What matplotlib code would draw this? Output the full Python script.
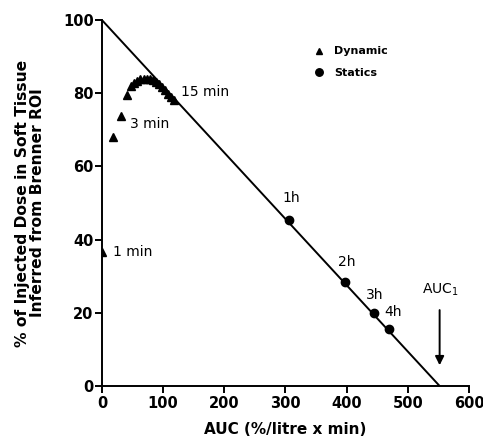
import numpy as np
import matplotlib
matplotlib.use("Agg")
import matplotlib.pyplot as plt

plt.rcParams['font.family'] = ['DejaVu Sans']
plt.rcParams['mathtext.default'] = 'regular'

# dynamic frames (AUC vs % injected dose)
dyn_auc = [0, 18, 31, 41, 48, 53, 58, 63, 68, 73, 78, 83, 88, 93, 98, 103, 108, 113, 118]
dyn_pct = [36.6, 68.0, 73.8, 79.5, 82.0, 82.8, 83.4, 83.8, 84.0, 84.0, 83.8, 83.5,
           83.0, 82.4, 81.6, 80.8, 79.9, 79.0, 78.2]

# static scans
stat_auc = [305, 398, 444, 469]
stat_pct = [45.4, 28.4, 19.9, 15.6]
stat_labels = ['1h', '2h', '3h', '4h']

auc_1 = 552

fig = plt.figure(figsize=(4.83, 4.45), dpi=100)
ax = fig.add_axes([0.211, 0.1326, 0.760, 0.8224])

ax.plot([0, auc_1], [100, 0], color='black', lw=1.4, zorder=2)
ax.plot(dyn_auc, dyn_pct, '^', color='black', ms=5.5, ls='none', label='Dynamic', zorder=3)
ax.plot(stat_auc, stat_pct, 'o', color='black', ms=6, ls='none', label='Statics', zorder=3)

# text labels for the time points
ax.text(18, 36.6, '1 min', fontsize=10, va='center')
ax.text(46, 71.5, '3 min', fontsize=10, va='center')
ax.text(130, 80.3, '15 min', fontsize=10, va='center')
offsets = [(-10, 51.5), (-12, 34), (-12, 25), (-7, 20.3)]
for x, lab, (dx, ty) in zip(stat_auc, stat_labels, offsets):
    ax.text(x + dx, ty, lab, fontsize=10, va='center')

ax.annotate('', xy=(auc_1, 4.9), xytext=(auc_1, 21.5),
            arrowprops=dict(arrowstyle='-|>', color='black', lw=1.4, mutation_scale=13))
ax.text(auc_1 + 2, 26.2, r'AUC$_1$', fontsize=10, ha='center', va='center')

ax.set_xlim(0, 600)
ax.set_ylim(0, 100)
ax.set_xticks(np.arange(0, 601, 100))
ax.set_yticks(np.arange(0, 101, 20))
for s in ['top', 'right']:
    ax.spines[s].set_visible(False)
for s in ['left', 'bottom']:
    ax.spines[s].set_linewidth(1.4)
ax.tick_params(direction='out', length=5, width=1.4, labelsize=10.5)
for lab in ax.get_xticklabels() + ax.get_yticklabels():
    lab.set_fontweight('bold')
ax.tick_params(axis='x', pad=2)
ax.tick_params(axis='y', pad=1)

ax.set_xlabel('AUC (%/litre x min)', fontsize=11, fontweight='bold', labelpad=8)
ax.set_ylabel('% of Injected Dose in Soft Tissue\nInferred from Brenner ROI',
              fontsize=11.2, fontweight='bold', linespacing=0.95, labelpad=13)

leg = ax.legend(loc='upper left', bbox_to_anchor=(0.545, 0.955), frameon=False,
                prop=dict(size=8, weight='bold'), handletextpad=0.8,
                labelspacing=1.0, markerscale=0.9, handlelength=1.2)

fig.savefig('out.png', dpi=100)
